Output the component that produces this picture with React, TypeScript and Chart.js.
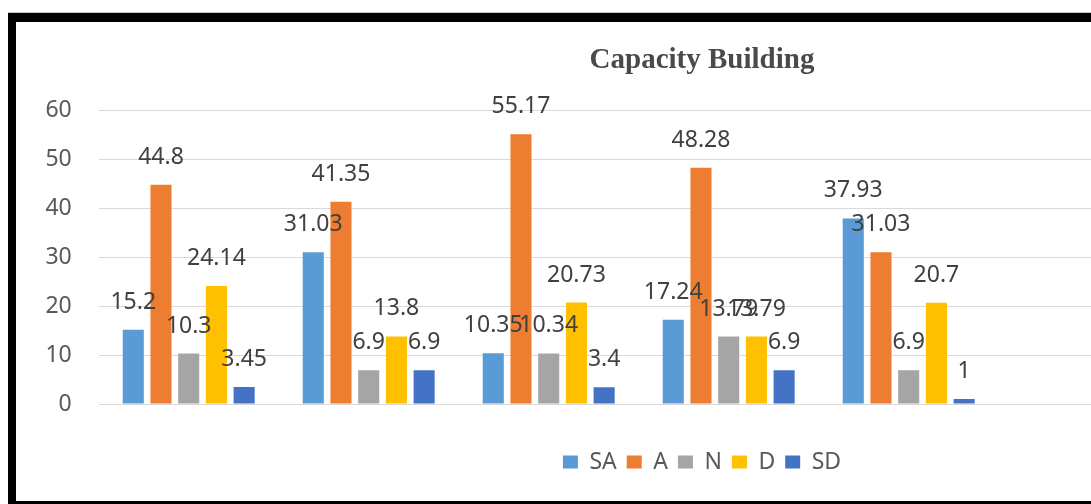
import React, { useEffect, useRef } from 'react';
import { Chart, registerables } from 'chart.js';

Chart.register(...registerables);

const categories = ['1', '2', '3', '4', '5'];
const seriesNames = ['SA', 'A', 'N', 'D', 'SD'];
const SA = [15.2, 31.03, 10.35, 17.24, 37.93];
const A = [44.8, 41.35, 55.17, 48.28, 31.03];
const N = [10.3, 6.9, 10.34, 13.79, 6.9];
const D = [24.14, 13.8, 20.73, 13.79, 20.7];
const SD = [3.45, 6.9, 3.4, 6.9, 1];
const seriesColors = ['#5B9BD5', '#ED7D31', '#A5A5A5', '#FFC000', '#4472C4'];
const yMin = 0;
const yMax = 60;
const yStep = 10;
const titleText = 'Capacity Building';

const CW = 1372;
const CH = 479;

const valueLabels = {
  id: 'valueLabels',
  afterDatasetsDraw(chart: any) {
    const ctx = chart.ctx;
    ctx.save();
    ctx.font = '23px "Noto Sans"';
    ctx.fillStyle = '#404040';
    ctx.textAlign = 'center';
    ctx.textBaseline = 'alphabetic';
    chart.data.datasets.forEach((ds: any, i: number) => {
      const meta = chart.getDatasetMeta(i);
      meta.data.forEach((el: any, j: number) => {
        ctx.fillText(String(ds.data[j]), el.x, el.y - 21);
      });
    });
    ctx.restore();
  },
};

export default function App() {
  const ref = useRef<HTMLCanvasElement | null>(null);

  useEffect(() => {
    if (!ref.current) return;
    const all = [SA, A, N, D, SD];
    const chart = new Chart(ref.current, {
      type: 'bar',
      data: {
        labels: categories,
        datasets: seriesNames.map((name, i) => ({
          label: name,
          data: all[i],
          backgroundColor: seriesColors[i],
          borderWidth: 0,
          categoryPercentage: 0.77,
          barPercentage: 0.76,
        })),
      },
      options: {
        responsive: false,
        animation: false,
        layout: { padding: { top: 0, bottom: 17.5, left: 0, right: 0 } },
        plugins: {
          tooltip: { enabled: false },
          title: {
            display: true,
            text: titleText,
            color: '#4A4A4A',
            font: { family: '"Liberation Serif"', size: 29, weight: 'bold' },
            padding: { top: 21.5, bottom: 32.2 },
          },
          legend: {
            display: true,
            position: 'bottom',
            labels: {
              boxWidth: 15,
              boxHeight: 13,
              padding: 10,
              color: '#595959',
              font: { family: '"Noto Sans"', size: 23 },
            },
          },
        },
        scales: {
          x: {
            type: 'category',
            grid: { display: false },
            border: { display: false },
            ticks: { display: false },
            afterFit: (s: any) => {
              s.height = 36.5;
            },
          },
          y: {
            position: 'left',
            min: yMin,
            max: yMax,
            ticks: {
              stepSize: yStep,
              padding: 27,
              color: '#595959',
              font: { family: '"Noto Sans"', size: 23 },
            },
            grid: { color: '#D9D9D9', lineWidth: 1, drawTicks: false },
            border: { display: false },
            afterFit: (s: any) => {
              s.width = 82.7;
            },
          },
          yExt: {
            type: 'linear',
            position: 'right',
            min: yMin,
            max: yMax,
            ticks: { stepSize: yStep, display: false },
            grid: {
              drawOnChartArea: false,
              drawTicks: true,
              tickLength: 389.3,
              color: '#D9D9D9',
              lineWidth: 1,
            },
            border: { display: false },
            afterFit: (s: any) => {
              s.width = 389.3;
            },
          },
        },
      },
      plugins: [valueLabels],
    } as any);
    return () => chart.destroy();
  }, []);

  return (
    <div
      style={{
        position: 'fixed',
        left: 0,
        top: 0,
        width: 1091,
        height: 504,
        overflow: 'hidden',
        background: '#ffffff',
      }}
    >
      <div style={{ position: 'absolute', left: 8, top: 12, width: 1400, height: 1, background: '#C8C8C8' }} />
      <div
        style={{
          position: 'absolute',
          left: 8,
          top: 13,
          width: 8 + CW + 20,
          height: 491,
          boxSizing: 'border-box',
          borderLeft: '8px solid #000',
          borderTop: '9px solid #000',
          borderBottom: '3px solid #000',
          background: '#fff',
        }}
      >
        <canvas
          ref={ref}
          width={CW}
          height={CH}
          style={{ position: 'absolute', left: 0, top: 0, width: CW, height: CH, display: 'block' }}
        />
      </div>
    </div>
  );
}
